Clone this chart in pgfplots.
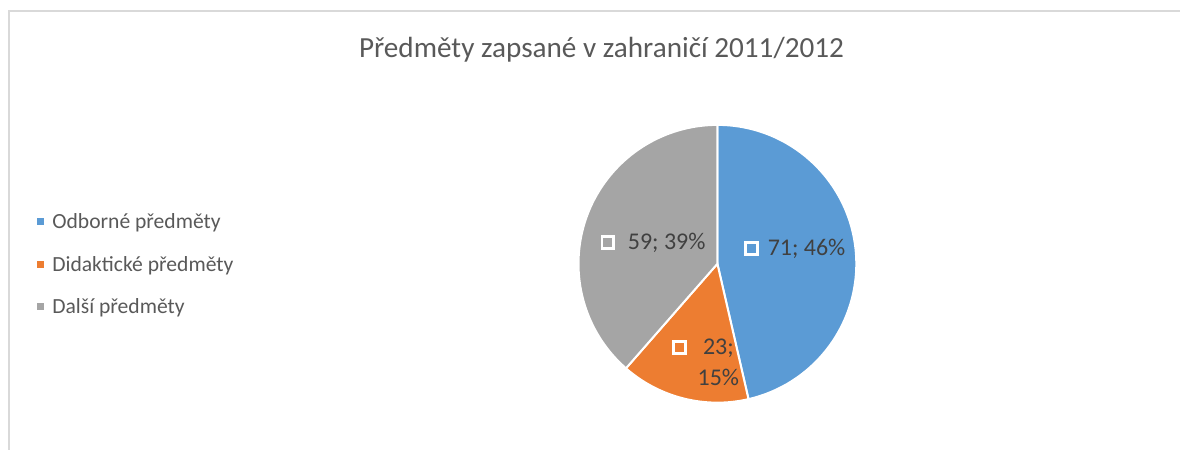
\documentclass[border=0pt]{standalone}
\usepackage{fontspec}
\setmainfont{Carlito}
\usepackage{pgfplots}
\usepackage{pgfplotstable}
\pgfplotsset{compat=1.18}
\definecolor{cBlue}{HTML}{5B9BD5}
\definecolor{cOrange}{HTML}{ED7D31}
\definecolor{cGray}{HTML}{A5A5A5}
\definecolor{cText}{HTML}{595959}
\definecolor{cLabel}{HTML}{404040}
\definecolor{cFrame}{HTML}{D9D9D9}
\pgfplotstableread{
name value
Odborne 71
Didakticke 23
Dalsi 59
}\piedata
\begin{document}
\begin{tikzpicture}
\pgfplotstablegetelem{0}{value}\of\piedata \let\va\pgfplotsretval
\pgfplotstablegetelem{1}{value}\of\piedata \let\vb\pgfplotsretval
\pgfplotstablegetelem{2}{value}\of\piedata \let\vc\pgfplotsretval
\pgfmathsetmacro\tot{\va+\vb+\vc}
\pgfmathsetmacro\aA{90}
\pgfmathsetmacro\aB{90-360*(\va/\tot)}
\pgfmathsetmacro\aC{\aB-360*(\vb/\tot)}
\pgfmathsetmacro\aD{-270}
\begin{axis}[
  width=590.5pt, height=225pt, scale only axis,
  xmin=0, xmax=1181, ymin=0, ymax=450,
  hide axis, clip=false,
]
\path (axis cs:0,0) rectangle (axis cs:1181,450);
% frame
\draw[cFrame, line width=1pt] (axis cs:9,0) -- (axis cs:9,439) -- (axis cs:1181,439);
% slices
\fill[cBlue, draw=white, line width=1pt] (axis cs:718,186) -- ++(\aA:69.5pt) arc[start angle=\aA, end angle=\aB, radius=69.5pt] -- cycle;
\fill[cOrange, draw=white, line width=1pt] (axis cs:718,186) -- ++(\aB:69.5pt) arc[start angle=\aB, end angle=\aC, radius=69.5pt] -- cycle;
\fill[cGray, draw=white, line width=1pt] (axis cs:718,186) -- ++(\aC:69.5pt) arc[start angle=\aC, end angle=\aD, radius=69.5pt] -- cycle;
% title
\node[text=cText, font=\fontsize{14.6}{17}\selectfont] at (axis cs:602,400) {Předměty zapsané v zahraničí 2011/2012};
% legend
\fill[cBlue] (axis cs:37,224.5) rectangle (axis cs:44,231.5);
\node[anchor=west, inner sep=0pt, text=cText, font=\fontsize{10.8}{12}\selectfont] at (axis cs:52,227) {Odborné předměty};
\fill[cOrange] (axis cs:37,181.5) rectangle (axis cs:44,188.5);
\node[anchor=west, inner sep=0pt, text=cText, font=\fontsize{10.8}{12}\selectfont] at (axis cs:52,184) {Didaktické předměty};
\fill[cGray] (axis cs:37,139.5) rectangle (axis cs:44,146.5);
\node[anchor=west, inner sep=0pt, text=cText, font=\fontsize{10.8}{12}\selectfont] at (axis cs:52,142) {Další předměty};
% data labels
\draw[white, line width=1.5pt] (axis cs:746,195) rectangle (axis cs:758,207);
\node[anchor=west, inner sep=0pt, text=cLabel, font=\fontsize{12}{14}\selectfont] at (axis cs:768,201) {\va; 46\%};
\draw[white, line width=1.5pt] (axis cs:602.5,201) rectangle (axis cs:614.5,213);
\node[anchor=west, inner sep=0pt, text=cLabel, font=\fontsize{12}{14}\selectfont] at (axis cs:628,207) {\vc; 39\%};
\draw[white, line width=1.5pt] (axis cs:674,96) rectangle (axis cs:686,108);
\node[text=cLabel, font=\fontsize{12}{15.5}\selectfont, align=center] at (axis cs:719,87) {\vb;\\15\%};
\end{axis}
\end{tikzpicture}
\end{document}
